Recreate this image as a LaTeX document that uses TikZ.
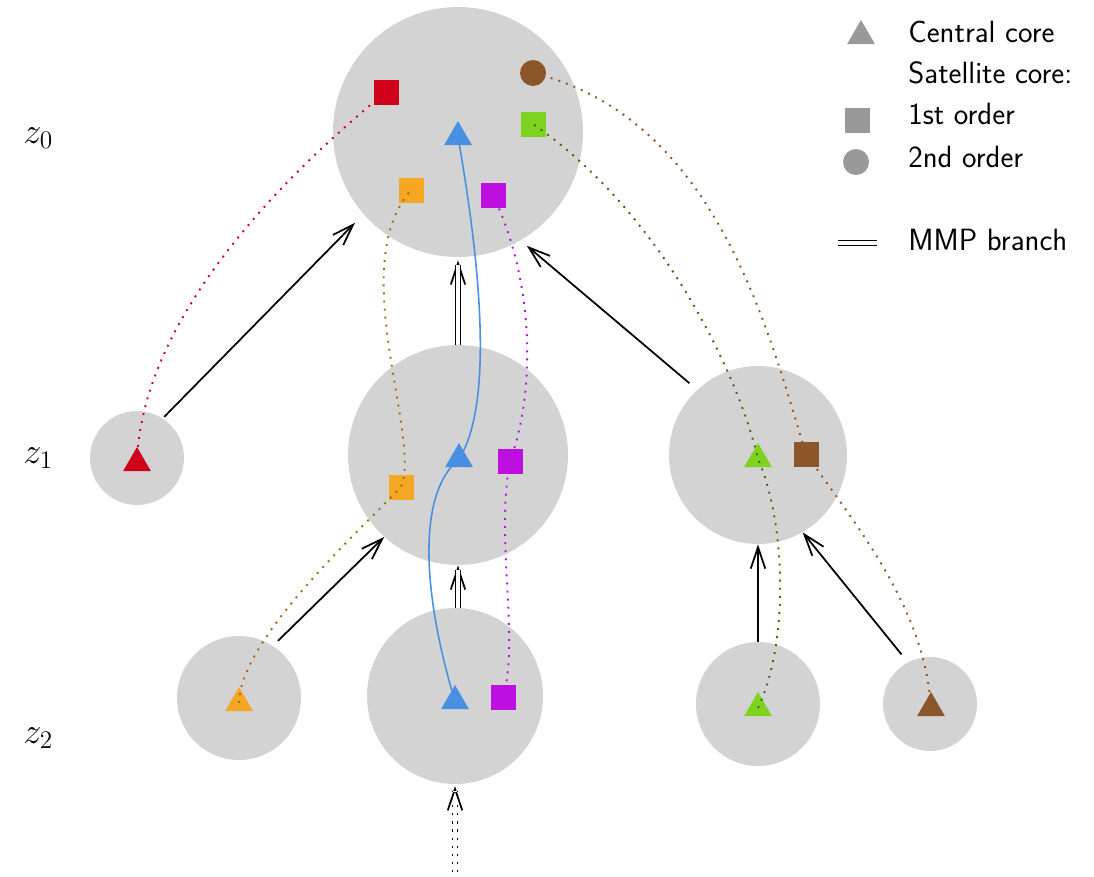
\documentclass[tikz,border=0pt]{standalone}
\usepackage{fontspec}
\usetikzlibrary{arrows.meta,shapes.geometric}
\definecolor{HaloClr}{rgb}{0.827,0.827,0.827}
\definecolor{LegendClr}{rgb}{0.6,0.6,0.6}
\definecolor{RedClr}{HTML}{D0021B}
\definecolor{OrangeClr}{HTML}{F5A623}
\definecolor{BlueClr}{HTML}{4A90E2}
\definecolor{GreenClr}{HTML}{7ED321}
\definecolor{PurpleClr}{HTML}{BD10E0}
\definecolor{BrownClr}{HTML}{8B572A}

\begin{document}
\begin{tikzpicture}[x=0.02cm,y=-0.02cm,
  halo/.style={circle,fill=HaloClr,inner sep=0pt,minimum size=#1},
  central/.style={regular polygon,regular polygon sides=3,fill=#1,inner sep=0pt,minimum size=0.64cm},
  firstord/.style={rectangle,fill=#1,inner sep=0pt,minimum size=0.5cm},
  secondord/.style={circle,fill=#1,inner sep=0pt,minimum size=0.52cm},
  feed/.style={line width=1pt,-{Straight Barb[length=4.3mm,width=2.9mm]}},
  mmp/.style={line width=1pt,double=white,double distance=1.8pt},
  trail/.style={draw=#1,line width=1.1pt,dash pattern=on 1.1pt off 3.5pt},
  track/.style={draw=BlueClr,line width=0.9pt},
  zlab/.style={anchor=base west,inner sep=0pt,font=\fontsize{20}{24}\selectfont},
  legtext/.style={anchor=base west,inner sep=0pt,font=\fontsize{17.5}{21}\selectfont\sffamily}]

\useasboundingbox (0,0) rectangle (1094,876);

\node[halo=5cm] (H0) at (458,132) {};
\node[halo=1.88cm] (L1) at (137,458) {};
\node[halo=4.4cm] (M1) at (458,455) {};
\node[halo=3.56cm] (R1) at (758,455) {};
\node[halo=2.48cm] (A2) at (239,698) {};
\node[halo=3.52cm] (B2) at (455,696) {};
\node[halo=2.48cm] (C2) at (758,704) {};
\node[halo=1.88cm] (D2) at (930,704) {};

\node[zlab] (Z0) at (23,143) {$z_0$};
\node[zlab] (Z1) at (23,463) {$z_1$};
\node[zlab] (Z2) at (23,743) {$z_2$};

% mergers
\draw[feed,shorten <=1.2pt,shorten >=6.8pt] (L1.57) -- (H0.221);
\draw[feed,shorten <=5.7pt,shorten >=4.6pt] (R1.133) -- (H0.300);
\draw[feed,shorten <=4pt] (A2.57) -- (M1.228);
\draw[feed] (C2.north) -- (R1.south);
\draw[feed,shorten <=5.7pt] (D2.118) -- (R1.300);

% main branch
\draw[feed,shorten >=1.7pt] (M1.north) -- (H0.south);
\draw[mmp,shorten >=4.3pt] (M1.north) -- (H0.south);
\draw[feed] (M1.south |- B2.north) -- (M1.south);
\draw[mmp,shorten >=2.6pt] (M1.south |- B2.north) -- (M1.south);
\coordinate (B3) at (455,872);
\draw[feed,dash pattern=on 1.2pt off 3.4pt,shorten >=1pt] (B3) -- (B2.south);
\draw[mmp,dash pattern=on 1.2pt off 3.4pt,shorten >=3.6pt] (B3) -- (B2.south);

\node[firstord=RedClr] (Rs0) at (386,92) {};
\node[secondord=BrownClr] (Bc0) at (533,73) {};
\node[central=BlueClr] (Bt0) at (458,137) {};
\node[firstord=GreenClr] (Gs0) at (533,124) {};
\node[firstord=OrangeClr] (Os0) at (411,190) {};
\node[firstord=PurpleClr] (Ps0) at (493,195) {};

\node[central=RedClr] (Rt1) at (137,463) {};
\node[central=BlueClr] (Bt1) at (459,459) {};
\node[firstord=OrangeClr] (Os1) at (401,487) {};
\node[firstord=PurpleClr] (Ps1) at (510,461) {};
\node[central=GreenClr] (Gt1) at (758,459) {};
\node[firstord=BrownClr] (Bs1) at (806,454) {};

\node[central=OrangeClr] (Ot2) at (239,703) {};
\node[central=BlueClr] (Bt2) at (455,701) {};
\node[firstord=PurpleClr] (Ps2) at (503,697) {};
\node[central=GreenClr] (Gt2) at (758,708) {};
\node[central=BrownClr] (Bb2) at (931,708) {};

% core histories
\draw[track] (Bt2.center) .. controls (430,620) and (410,500) .. (Bt1.center)
  .. controls (490,410) and (485,290) .. (Bt0.center);
\draw[trail=RedClr] (Rt1.center) .. controls (140,350) and (230,220) .. (Rs0.center);
\draw[trail=OrangeClr!65!black] (Ot2.center) .. controls (240,640) and (355,535) .. (Os1.center)
  .. controls (422,438) and (345,265) .. (Os0.center);
\draw[trail=PurpleClr] (Ps2.center) .. controls (520,640) and (495,540) .. (Ps1.center)
  .. controls (533,400) and (538,290) .. (Ps0.center);
\draw[trail=GreenClr!50!black] (Gt2.center) .. controls (790,640) and (785,520) .. (Gt1.center)
  .. controls (740,380) and (665,215) .. (Gs0.center);
\draw[trail=BrownClr] (Bb2.center) .. controls (925,610) and (860,530) .. (Bs1.center)
  .. controls (768,330) and (716,118) .. (Bc0.center);

% legend
\node[central=LegendClr] (K1) at (861,36) {};
\node[firstord=LegendClr] (K2) at (857,120) {};
\node[secondord=LegendClr] (K3) at (856,162) {};
\coordinate (K4a) at (838,243);
\coordinate (K4b) at (877,243);
\draw[mmp] (K4a) -- (K4b);
\node[legtext] (T1) at (908,42) {Central core};
\node[legtext] (T2) at (908,83) {Satellite core:};
\node[legtext] (T3) at (908,124) {1st order};
\node[legtext] (T4) at (908,167) {2nd order};
\node[legtext] (T5) at (908,250) {MMP branch};

\end{tikzpicture}
\end{document}
